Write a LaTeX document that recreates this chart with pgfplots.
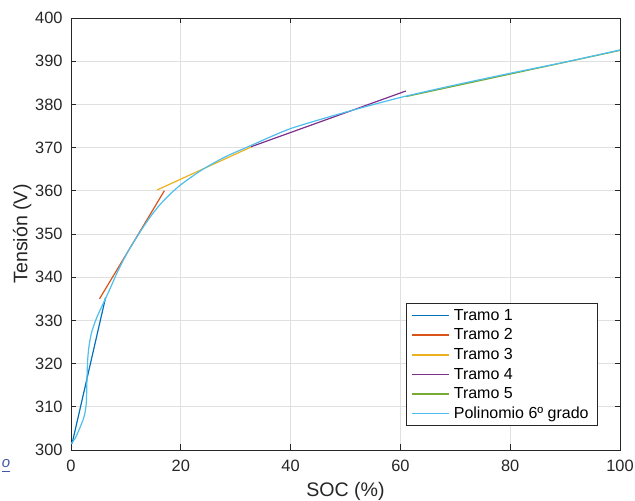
\documentclass[border=0pt]{standalone}
\usepackage{pgfplots}
\pgfplotsset{compat=1.18}
\usepackage{fontspec}
\setmainfont{Liberation Sans}

% MATLAB default line colours
\definecolor{mblue}{rgb}{0,0.447,0.741}
\definecolor{morange}{rgb}{0.85,0.325,0.098}
\definecolor{myellow}{rgb}{0.929,0.694,0.125}
\definecolor{mpurple}{rgb}{0.494,0.184,0.556}
\definecolor{mgreen}{rgb}{0.466,0.674,0.188}
\definecolor{mcyan}{rgb}{0.301,0.745,0.933}
\definecolor{axgray}{rgb}{0.15,0.15,0.15}
\definecolor{linkblue}{rgb}{0.25,0.35,0.65}

\begin{document}
\begin{tikzpicture}
\begin{axis}[
  name=main,
  scale only axis,
  width=274.5pt, height=216pt,
  xmin=0, xmax=100, ymin=300, ymax=400,
  xtick={0,20,...,100},
  ytick={300,310,...,400},
  grid=major,
  grid style={line width=0.4pt, color=black!12},
  axis line style={color=axgray, line width=0.4pt},
  tick style={color=axgray, line width=0.4pt},
  tick align=inside,
  major tick length=2.75pt,
  xtick pos=both, ytick pos=both,
  /pgf/number format/assume math mode=true,
  ticklabel style={font=\fontsize{8.2}{9}\selectfont, color=axgray},
  yticklabel style={inner xsep=0pt, xshift=-4pt},
  xticklabel style={inner ysep=0pt, yshift=-5pt},
  xlabel={SOC (\%)},
  ylabel={Tensión (V)},
  label style={font=\fontsize{9.8}{11}\selectfont, color=axgray},
  xlabel style={at={(axis description cs:0.5,-0.0949)}, anchor=center},
  ylabel style={at={(axis description cs:-0.089,0.5)}, anchor=center},
  legend cell align=left,
  legend image code/.code={\draw[#1, line width=0.75pt] (0pt,0pt) -- (18.3pt,0pt);},
  legend style={
    at={(axis cs:96,305.5)}, anchor=south east,
    font=\fontsize{8}{9}\selectfont,
    draw=axgray, line width=0.4pt, fill=white,
    inner xsep=2.5pt, inner ysep=1.5pt,
    row sep=0.6pt,
    nodes={inner ysep=0.5pt, text height=6.4pt, text depth=1.8pt},
    /tikz/every even column/.append style={column sep=2pt},
  },
]
% piecewise linear fits
\addplot[mblue, line width=0.6pt] coordinates {(0.2,301.5) (6.3,335.3)};
\addlegendentry{Tramo 1}
\addplot[morange, line width=0.6pt] coordinates {(5.2,335.0) (17.0,360.0)};
\addlegendentry{Tramo 2}
\addplot[myellow, line width=0.6pt] coordinates {(15.7,360.2) (32.9,370.2)};
\addlegendentry{Tramo 3}
\addplot[mpurple, line width=0.6pt] coordinates {(32.8,370.2) (61.0,383.1)};
\addlegendentry{Tramo 4}
\addplot[mgreen, line width=0.6pt] coordinates {(61.0,381.8) (100,392.5)};
\addlegendentry{Tramo 5}
% 6th degree polynomial fit
\addplot[mcyan, line width=0.6pt, smooth, tension=0.4] coordinates {
  (0,301.4) (0.8,302.8) (1.64,305.2) (2.2,307.0) (2.55,308.6)
  (2.78,310.8) (2.86,313.5) (2.92,317.0) (3.02,320.5) (3.25,323.8)
  (3.75,327.2) (4.67,330.6) (5.9,334.0) (7.1,337.3) (8.6,341.6)
  (10.4,346.0) (12.6,350.5) (14.4,353.9) (16.2,356.8) (18.2,359.4)
  (20.2,361.6) (23.8,364.8) (28,367.8) (32.8,370.5) (40,374.4)
  (50,378.2) (60,381.6) (70,384.5) (80,387.2) (90,389.8) (100,392.6)
};
\addlegendentry{Polinomio 6º grado}
\end{axis}
\node[anchor=center, font=\fontsize{7.5}{8}\selectfont\itshape, color=linkblue, inner sep=0pt]
  at ([xshift=-32.5pt,yshift=-8pt]main.south west) {\underline{o}};
\pgfresetboundingbox
\useasboundingbox ([xshift=-35.5pt,yshift=-25.5pt]main.south west)
  rectangle ([xshift=7.5pt,yshift=9pt]main.north east);
\end{tikzpicture}
\end{document}
